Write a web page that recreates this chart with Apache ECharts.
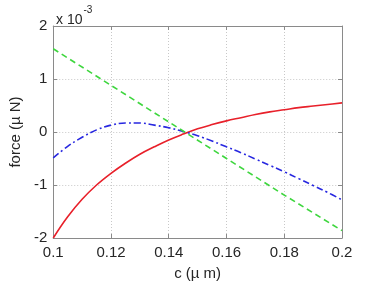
<!DOCTYPE html>
<html>
<head>
<meta charset="utf-8">
<script src="https://cdn.jsdelivr.net/npm/echarts@6/dist/echarts.min.js"></script>
<style>html,body{margin:0;padding:0;background:#fff}#c{width:381px;height:290px}</style>
</head>
<body>
<div id="c"></div>
<script>
// x values in micrometres, forces in units of 1e-3 uN
var cValues = [0.1,0.105,0.11,0.115,0.12,0.125,0.13,0.135,0.14,0.145,0.15,0.155,0.16,0.165,0.17,0.175,0.18,0.185,0.19,0.195,0.2];
var redForce = [-2.0,-1.6,-1.27,-1.0,-0.78,-0.59,-0.42,-0.28,-0.15,-0.04,0.06,0.14,0.21,0.27,0.33,0.38,0.42,0.46,0.49,0.52,0.55];
var blueForce = [-0.49,-0.27,-0.1,0.04,0.13,0.17,0.17,0.13,0.08,0.01,-0.07,-0.17,-0.28,-0.39,-0.51,-0.63,-0.75,-0.88,-1.01,-1.14,-1.28];
var greenC = [0.1,0.12,0.14,0.16,0.18,0.2];
var greenForce = [1.57,0.88,0.19,-0.5,-1.19,-1.86];
var xTicks = [0.1,0.12,0.14,0.16,0.18,0.2];
var yTicks = [-2,-1,0,1,2];
var exponentText = '-3';
var xName = 'c (\u00b5 m)';
var yName = 'force (\u00b5 N)';

function pairs(xs, ys){ return xs.map(function(x,i){ return [x, ys[i]]; }); }

var font = 'Liberation Sans, Arial, sans-serif';
var txt = '#262626';
var axisCol = '#8a8a8a';

var chart = echarts.init(document.getElementById('c'), null, {renderer:'canvas'});
chart.setOption({
  animation:false,
  backgroundColor:'#fff',
  title:{
    left:51, top:0,
    text:'{a|x 10}{b|' + exponentText + '}',
    textStyle:{
      fontWeight:'normal',
      rich:{
        a:{fontFamily:font,fontSize:14,fontWeight:'normal',color:txt,padding:[8,0,0,0]},
        b:{fontFamily:font,fontSize:10,fontWeight:'normal',color:txt,verticalAlign:'top',padding:[0,0,6,1]}
      }
    }
  },
  grid:{left:51,right:39,top:26,bottom:52},
  xAxis:[{
    type:'value', min:xTicks[0], max:xTicks[xTicks.length-1], interval:0.02,
    name:xName, nameLocation:'middle', nameGap:28,
    nameTextStyle:{fontFamily:font,fontSize:15,color:txt},
    axisLine:{show:true,onZero:false,lineStyle:{color:axisCol,width:1}},
    axisTick:{show:true,inside:true,length:4,lineStyle:{color:axisCol}},
    axisLabel:{fontFamily:font,fontSize:15,color:txt,margin:7,
      formatter:function(v){ return String(+v.toFixed(2)); }},
    splitLine:{show:true,lineStyle:{color:'#c8c8c8',type:[1,2],width:1}}
  },{
    type:'value', min:xTicks[0], max:xTicks[xTicks.length-1], interval:0.02, position:'top',
    axisLine:{show:true,onZero:false,lineStyle:{color:axisCol,width:1}},
    axisTick:{show:true,inside:true,length:4,lineStyle:{color:axisCol}},
    axisLabel:{show:false}, splitLine:{show:false}
  }],
  yAxis:[{
    type:'value', min:yTicks[0], max:yTicks[yTicks.length-1], interval:1,
    name:yName, nameLocation:'middle', nameGap:27,
    nameTextStyle:{fontFamily:font,fontSize:15,color:txt},
    axisLine:{show:true,onZero:false,lineStyle:{color:axisCol,width:1}},
    axisTick:{show:true,inside:true,length:4,lineStyle:{color:axisCol}},
    axisLabel:{fontFamily:font,fontSize:15,color:txt,margin:6},
    splitLine:{show:true,lineStyle:{color:'#c8c8c8',type:[1,2],width:1}}
  },{
    type:'value', min:yTicks[0], max:yTicks[yTicks.length-1], interval:1, position:'right',
    axisLine:{show:true,onZero:false,lineStyle:{color:axisCol,width:1}},
    axisTick:{show:true,inside:true,length:4,lineStyle:{color:axisCol}},
    axisLabel:{show:false}, splitLine:{show:false}
  }],
  series:[
    {type:'line', data:pairs(cValues, redForce), smooth:0.4, showSymbol:false,
     lineStyle:{color:'#e8202a',width:1.6}},
    {type:'line', data:pairs(cValues, blueForce), smooth:0.4, showSymbol:false,
     lineStyle:{color:'#2828e0',width:1.6,type:[7,3,2,3]}},
    {type:'line', data:pairs(greenC, greenForce), smooth:false, showSymbol:false,
     lineStyle:{color:'#3ed63e',width:1.6,type:[6,4]}}
  ]
});
</script>
</body>
</html>
